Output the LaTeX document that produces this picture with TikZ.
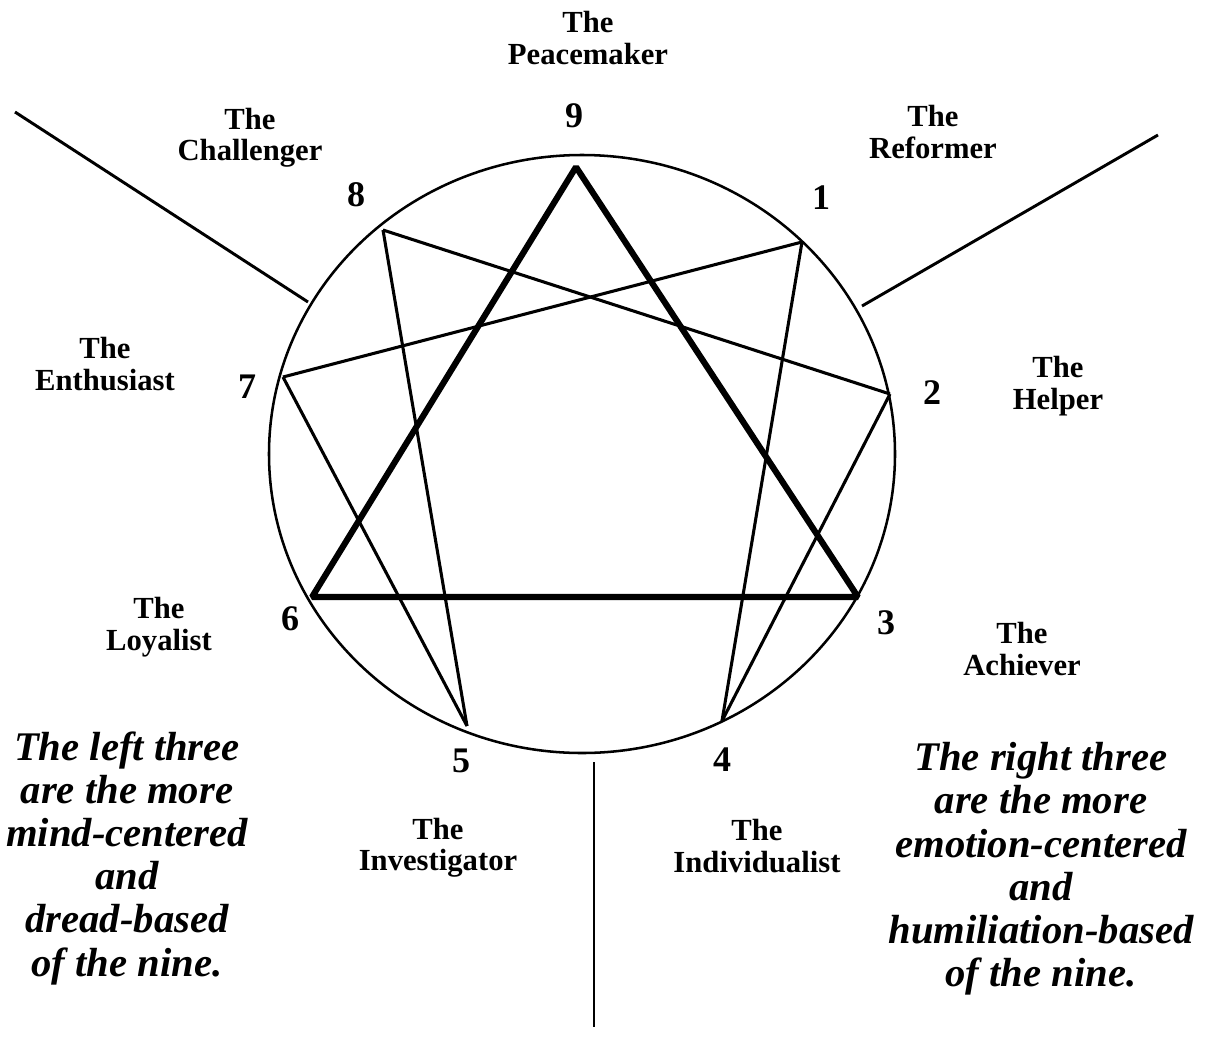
\documentclass[tikz,border=0pt]{standalone}
\usepackage{fontspec}
\setmainfont{Liberation Serif}
\begin{document}
\begin{tikzpicture}[x=0.75pt,y=-0.75pt,
  thinline/.style={line width=2.3pt},
  thickline/.style={line width=4.6pt,line join=bevel},
  rim/.style={line width=1.9pt},
  outer/.style={line width=2.2pt},
  lbl/.style={font=\bfseries\fontsize{23}{23.5}\selectfont,align=center,inner sep=0pt},
  num/.style={font=\bfseries\fontsize{27}{28}\selectfont,inner sep=0pt},
  note/.style={font=\bfseries\itshape\fontsize{30.5}{32.4}\selectfont,align=center,inner sep=0pt}]
\useasboundingbox (0,0) rectangle (1207,1057);
% circle
\draw[rim] (582,454) ellipse [x radius=313, y radius=299];
% points
\coordinate (p9) at (576,167);
\coordinate (p1) at (802,242);
\coordinate (p2) at (890,394);
\coordinate (p3) at (858,597);
\coordinate (p4) at (722,721);
\coordinate (p5) at (467,726);
\coordinate (p6) at (312,597);
\coordinate (p7) at (283,377);
\coordinate (p8) at (383,230);
% thin hexad
\draw[thinline] (p1) -- (p4);
\draw[thinline] (p4) -- (p2);
\draw[thinline] (p2) -- (p8);
\draw[thinline] (p8) -- (p5);
\draw[thinline] (p5) -- (p7);
\draw[thinline] (p7) -- (p1);
% thick triangle
\draw[thickline] (p9) -- (p3) -- (p6) -- cycle;
% outer dividing lines
\coordinate (a1) at (15,112);
\coordinate (a2) at (308,302);
\coordinate (b1) at (862,306);
\coordinate (b2) at (1158,135);
\coordinate (c1) at (594,762);
\coordinate (c2) at (594,1027);
\draw[outer] (a1) -- (a2);
\draw[outer] (b1) -- (b2);
\draw[outer] (c1) -- (c2);
% numbers
\node[num] (n9) at (574,116) {9};
\node[num] (n1) at (821,198) {1};
\node[num] (n2) at (932,393) {2};
\node[num] (n3) at (886,623) {3};
\node[num] (n4) at (722,760) {4};
\node[num] (n5) at (461,761) {5};
\node[num] (n6) at (290,619) {6};
\node[num] (n7) at (247,387) {7};
\node[num] (n8) at (356,195) {8};
% type labels
\node[lbl] (t9) at (588,38) {The\\Peacemaker};
\node[lbl] (t1) at (933,132) {The\\Reformer};
\node[lbl] (t2) at (1058,386) {The\\Helper};
\node[lbl] (t3) at (1022,649) {The\\Achiever};
\node[lbl] (t4) at (757,846) {The\\Individualist};
\node[lbl] (t5) at (438,848) {The\\Investigator};
\node[lbl] (t6) at (159,627) {The\\Loyalist};
\node[lbl] (t7) at (105,364) {The\\Enthusiast};
\node[lbl] (t8) at (250,138) {The\\Challenger};
% notes
\node[note] (left) at (127,858) {The left three\\are the more\\mind-centered\\and\\dread-based\\of the nine.};
\node[note] (right) at (1041,869) {The right three\\are the more\\emotion-centered\\and\\humiliation-based\\of the nine.};
\end{tikzpicture}
\end{document}
